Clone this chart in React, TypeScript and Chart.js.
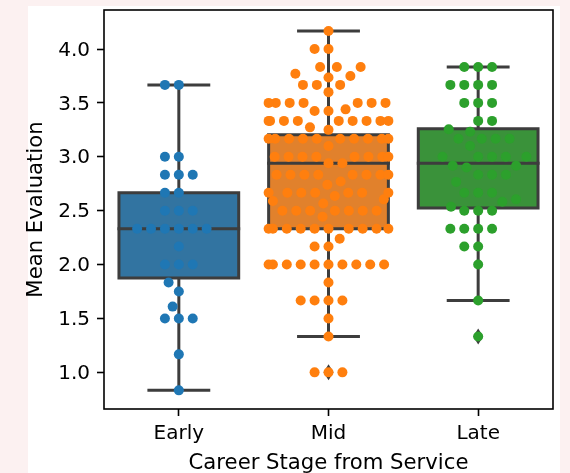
import React, { useEffect, useRef } from 'react';
import { Chart, registerables } from 'chart.js';

Chart.register(...registerables);

// ---------- data ----------
const categories = ['Early', 'Mid', 'Late'];

const earlyValues = [
  0.833, 1.167, 1.5, 1.5, 1.5, 1.61, 1.75, 1.833, 2.0, 2.0, 2.0, 2.167,
  2.333, 2.333, 2.333, 2.333, 2.333, 2.333, 2.5, 2.5, 2.5, 2.667, 2.667,
  2.833, 2.833, 2.833, 3.0, 3.0, 3.667, 3.667,
];

const midValues = [
  1.0, 1.0, 1.0, 1.333, 1.5, 1.667, 1.667, 1.667, 1.667, 1.833,
  2.0, 2.0, 2.0, 2.0, 2.0, 2.0, 2.0, 2.0, 2.0, 2.0,
  2.167, 2.167, 2.24,
  2.333, 2.333, 2.333, 2.333, 2.333, 2.333, 2.333, 2.333, 2.333, 2.333,
  2.444,
  2.5, 2.5, 2.5, 2.5, 2.5, 2.5, 2.5,
  2.567, 2.59, 2.605, 2.636,
  2.667, 2.667, 2.667, 2.667, 2.667, 2.667, 2.667,
  2.74, 2.77,
  2.833, 2.833, 2.833, 2.833, 2.833, 2.833, 2.833, 2.833,
  2.94, 2.94,
  3.0, 3.0, 3.0, 3.0, 3.0, 3.0, 3.0, 3.0,
  3.1,
  3.167, 3.167, 3.167, 3.167, 3.167, 3.167, 3.167, 3.167, 3.167, 3.167,
  3.25, 3.273,
  3.333, 3.333, 3.333, 3.333, 3.333, 3.333, 3.333, 3.333, 3.333,
  3.425, 3.425, 3.44,
  3.5, 3.5, 3.5, 3.5, 3.5, 3.5, 3.5,
  3.6,
  3.667, 3.667, 3.667,
  3.735, 3.75, 3.77,
  3.833, 3.833, 3.833,
  4.0, 4.0,
  4.167,
];

const lateValues = [
  1.333, 1.667, 2.0, 2.167, 2.167, 2.333, 2.333, 2.333, 2.333,
  2.5, 2.5, 2.5, 2.537, 2.583, 2.605, 2.667, 2.667, 2.667, 2.767,
  2.833, 2.833, 2.833, 2.9, 2.917, 2.917, 3.0, 3.0, 3.0, 3.0, 3.0,
  3.1, 3.167, 3.167, 3.167, 3.167, 3.233, 3.255, 3.333, 3.333,
  3.5, 3.5, 3.5, 3.667, 3.667, 3.667, 3.667, 3.833, 3.833, 3.833,
];

// box-plot statistics per category
const whiskerLow = [0.833, 1.333, 1.667];
const quartile1 = [1.875, 2.333, 2.526];
const medians = [2.333, 2.94, 2.94];
const quartile3 = [2.667, 3.205, 3.26];
const whiskerHigh = [3.667, 4.167, 3.833];
const outliersEarly: number[] = [];
const outliersMid = [1.0];
const outliersLate = [1.333];

const yTickValues = [1.0, 1.5, 2.0, 2.5, 3.0, 3.5, 4.0];
const yTickLabels = ['1.0', '1.5', '2.0', '2.5', '3.0', '3.5', '4.0'];
const yMin = 0.66;
const yMax = 4.362;

const xTitle = 'Career Stage from Service';
const yTitle = 'Mean Evaluation';

// ---------- styles ----------
const pointColors = ['#1f77b4', '#ff7f0e', '#2ca02c'];
const boxColors = ['#3274a1', '#e1812c', '#3a923a'];
const GRAY = '#3d3d3d';
const FONT = "'DejaVu Sans', sans-serif";
const TICK_SIZE = 20;
const TITLE_SIZE = 21.2;
const SWARM_DIAMETER = 13.24; // collision diameter in px
const BOX_HALF = 0.4; // in category units
const CAP_HALF = 0.2;

const swarmValues = [earlyValues, midValues, lateValues];
const outlierValues = [outliersEarly, outliersMid, outliersLate];

// seaborn-style beeswarm in pixel space
function beeswarm(py: number[], d: number, half: number): number[] {
  const order = py.map((_, i) => i).sort((a, b) => (py[b] - py[a]) || (a - b));
  const placed: { x: number; y: number }[] = [];
  const out = new Array(py.length).fill(0);
  for (const i of order) {
    const y = py[i];
    const nb: { x: number; y: number }[] = [];
    for (let k = placed.length - 1; k >= 0; k--) {
      if (Math.abs(y - placed[k].y) < d) nb.push(placed[k]);
      else break;
    }
    nb.reverse();
    const cands: number[] = [0];
    let leftFirst = true;
    for (const n of nb) {
      const dy = y - n.y;
      const dx = Math.sqrt(Math.max(d * d - dy * dy, 0)) * 1.05;
      if (leftFirst) cands.push(n.x - dx, n.x + dx);
      else cands.push(n.x + dx, n.x - dx);
      leftFirst = !leftFirst;
    }
    const sorted = cands
      .map((c, j) => ({ c, j }))
      .sort((a, b) => (Math.abs(a.c) - Math.abs(b.c)) || (a.j - b.j));
    let chosen = 0;
    for (const { c } of sorted) {
      let ok = true;
      for (const n of nb) {
        if ((n.x - c) ** 2 + (n.y - y) ** 2 < d * d - 1e-9) { ok = false; break; }
      }
      if (ok) { chosen = c; break; }
    }
    placed.push({ x: chosen, y });
    out[i] = chosen;
  }
  return out.map((o) => Math.max(-half, Math.min(half, o)));
}

const backgroundPlugin = {
  id: 'figureBackground',
  beforeDraw(chart: any) {
    const ctx = chart.ctx;
    ctx.save();
    ctx.fillStyle = '#fcf1f1';
    ctx.fillRect(0, 0, chart.width, chart.height);
    ctx.fillStyle = '#ffffff';
    ctx.fillRect(28, 6, 532, chart.height - 6);
    ctx.restore();
  },
};

const boxPlugin = {
  id: 'boxes',
  beforeDatasetsDraw(chart: any) {
    const { ctx } = chart;
    const x = chart.scales.x;
    const y = chart.scales.y;
    const unit = x.getPixelForValue(1) - x.getPixelForValue(0);
    ctx.save();
    ctx.strokeStyle = GRAY;
    ctx.lineWidth = 3;
    categories.forEach((_, i) => {
      const cx = x.getPixelForValue(i);
      const hw = BOX_HALF * unit;
      const cw = CAP_HALF * unit;
      const yq1 = y.getPixelForValue(quartile1[i]);
      const yq3 = y.getPixelForValue(quartile3[i]);
      const ymed = y.getPixelForValue(medians[i]);
      const ylo = y.getPixelForValue(whiskerLow[i]);
      const yhi = y.getPixelForValue(whiskerHigh[i]);
      // whiskers
      ctx.lineCap = 'butt';
      ctx.beginPath();
      ctx.moveTo(cx, yq1); ctx.lineTo(cx, ylo);
      ctx.moveTo(cx, yq3); ctx.lineTo(cx, yhi);
      ctx.stroke();
      // box
      ctx.lineJoin = 'miter';
      ctx.fillStyle = boxColors[i];
      ctx.beginPath();
      ctx.rect(cx - hw, yq3, 2 * hw, yq1 - yq3);
      ctx.fill();
      ctx.stroke();
      // median + caps
      ctx.lineCap = 'square';
      ctx.beginPath();
      ctx.moveTo(cx - hw, ymed); ctx.lineTo(cx + hw, ymed);
      ctx.moveTo(cx - cw, ylo); ctx.lineTo(cx + cw, ylo);
      ctx.moveTo(cx - cw, yhi); ctx.lineTo(cx + cw, yhi);
      ctx.stroke();
      // fliers (thin diamonds)
      ctx.fillStyle = GRAY;
      outlierValues[i].forEach((v) => {
        const oy = y.getPixelForValue(v);
        ctx.beginPath();
        ctx.moveTo(cx, oy - 8);
        ctx.lineTo(cx + 5, oy);
        ctx.lineTo(cx, oy + 8);
        ctx.lineTo(cx - 5, oy);
        ctx.closePath();
        ctx.fill();
      });
    });
    ctx.restore();
  },
};

const framePlugin = {
  id: 'frame',
  afterDraw(chart: any) {
    const { ctx, chartArea: a } = chart;
    ctx.save();
    ctx.strokeStyle = '#000000';
    ctx.lineWidth = 1.6;
    ctx.strokeRect(a.left, a.top, a.right - a.left, a.bottom - a.top);
    ctx.restore();
  },
};

export default function App() {
  const ref = useRef<HTMLCanvasElement>(null);

  useEffect(() => {
    const canvas = ref.current;
    if (!canvas) return;
    Chart.defaults.font.family = FONT;
    Chart.defaults.font.size = TICK_SIZE;
    Chart.defaults.color = '#000000';

    const chart = new Chart(canvas, {
      type: 'scatter',
      data: {
        datasets: swarmValues.map((vals, i) => ({
          label: categories[i],
          data: vals.map((v) => ({ x: i, y: v })),
          backgroundColor: pointColors[i],
          borderWidth: 0,
          pointRadius: 5,
          pointHoverRadius: 5,
        })),
      },
      options: {
        responsive: false,
        animation: false,
        devicePixelRatio: 1,
        layout: { padding: { top: 10, right: 17, bottom: 0, left: 0 }, autoPadding: false },
        plugins: { legend: { display: false }, tooltip: { enabled: false } },
        events: [],
        scales: {
          x: {
            type: 'linear',
            min: -0.5,
            max: 2.5,
            bounds: 'data',
            border: { display: false },
            grid: { display: true, drawOnChartArea: false, drawTicks: true, tickLength: 7, tickWidth: 1.6, tickColor: '#000000' },
            ticks: {
              padding: 6,
              maxRotation: 0,
              autoSkip: false,
              color: '#000000',
              font: { family: FONT, size: TICK_SIZE },
              callback: (_v: any, idx: number) => categories[idx],
            },
            afterBuildTicks: (scale: any) => {
              scale.ticks = categories.map((_, i) => ({ value: i }));
            },
            afterFit: (scale: any) => {
              scale.height = 64;
              scale.paddingLeft = 0;
              scale.paddingRight = 0;
            },
            title: {
              display: true,
              text: xTitle,
              color: '#000000',
              font: { family: FONT, size: TITLE_SIZE, lineHeight: 0.87 },
              padding: { top: 0, bottom: 0 },
            },
          },
          y: {
            type: 'linear',
            min: yMin,
            max: yMax,
            bounds: 'data',
            border: { display: false },
            grid: { display: true, drawOnChartArea: false, drawTicks: true, tickLength: 7, tickWidth: 1.6, tickColor: '#000000' },
            ticks: {
              padding: 7,
              labelOffset: 1.4,
              color: '#000000',
              font: { family: FONT, size: TICK_SIZE },
              callback: (_v: any, idx: number) => yTickLabels[idx],
            },
            afterBuildTicks: (scale: any) => {
              scale.ticks = yTickValues.map((v) => ({ value: v }));
            },
            afterFit: (scale: any) => {
              scale.width = 104;
              scale.paddingTop = 0;
              scale.paddingBottom = 0;
            },
            title: {
              display: true,
              text: yTitle,
              color: '#000000',
              font: { family: FONT, size: TITLE_SIZE },
              padding: { top: 24, bottom: 0 },
            },
          },
        },
      } as any,
      plugins: [backgroundPlugin, boxPlugin, framePlugin],
    });

    // swarm positions computed from the laid-out scales
    const xs: any = chart.scales.x;
    const ys: any = chart.scales.y;
    const unit = xs.getPixelForValue(1) - xs.getPixelForValue(0);
    chart.data.datasets.forEach((ds: any, i: number) => {
      const vals = swarmValues[i];
      const py = vals.map((v) => ys.getPixelForValue(v));
      const off = beeswarm(py, SWARM_DIAMETER, BOX_HALF * unit);
      ds.data = vals.map((v, k) => ({ x: i + off[k] / unit, y: v }));
    });
    chart.update('none');

    return () => chart.destroy();
  }, []);

  return (
    <div style={{ position: 'absolute', left: 0, top: 0, width: 570, height: 473 }}>
      <canvas ref={ref} width={570} height={473} style={{ display: 'block', width: 570, height: 473 }} />
    </div>
  );
}
